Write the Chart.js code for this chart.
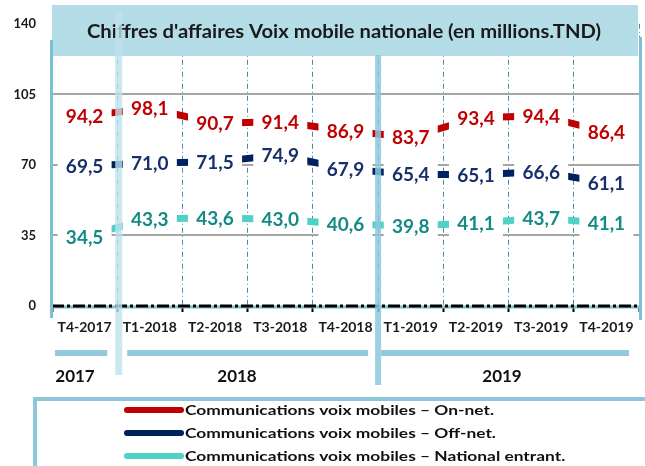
<!DOCTYPE html>
<html>
<head>
<meta charset="utf-8">
<script src="https://cdn.jsdelivr.net/npm/chart.js@4"></script>
<style>
  body { margin: 0; background: #fff; }
  #holder { width: 645px; height: 466px; }
</style>
</head>
<body>
<div id="holder"><canvas id="myChart" width="645" height="466"></canvas></div>
<script>
// data
var quarters = ['T4-2017', 'T1-2018', 'T2-2018', 'T3-2018', 'T4-2018', 'T1-2019', 'T2-2019', 'T3-2019', 'T4-2019'];
var onNet = [94.2, 98.1, 90.7, 91.4, 86.9, 83.7, 93.4, 94.4, 86.4];
var offNet = [69.5, 71.0, 71.5, 74.9, 67.9, 65.4, 65.1, 66.6, 61.1];
var entrant = [34.5, 43.3, 43.6, 43.0, 40.6, 39.8, 41.1, 43.7, 41.1];
var seriesNames = ['Communications voix mobiles \u2013 On-net.', 'Communications voix mobiles \u2013 Off-net.', 'Communications voix mobiles \u2013 National entrant.'];
var yearLabels = ['2017', '2018', '2019'];
var yearSpans = [[0, 0], [1, 4], [5, 8]];   // first / last quarter index of each year
var titleText = "Chiffres d'affaires Voix mobile nationale (en millions.TND)";

var lineColors = ['#c00000', '#002060', '#4fd1c5'];
var textColors = ['#c00000', '#17306b', '#138a85'];
var FONT = 'Lato, "Open Sans", sans-serif';

function fmt(v) {
  return v.toFixed(1).replace('.', ',');
}

// draws text squeezed/stretched to a given width (source font is Calibri-like)
function fitText(ctx, text, x, y, w, font, color, align) {
  ctx.save();
  ctx.font = font;
  var s = w / ctx.measureText(text).width;
  ctx.translate(x, y);
  ctx.scale(s, 1);
  ctx.fillStyle = color;
  ctx.textAlign = align || 'center';
  ctx.textBaseline = 'middle';
  ctx.fillText(text, 0, 0);
  ctx.restore();
}

var decorations = {
  id: 'decorations',
  afterDatasetsDraw: function(chart) {
    var ctx = chart.ctx;
    var xs = chart.scales.x, ys = chart.scales.y;
    var area = chart.chartArea;

    // value labels on white boxes (they hide most of the thick line)
    chart.data.datasets.forEach(function(ds, d) {
      ds.data.forEach(function(v, i) {
        var px = xs.getPixelForValue(i);
        var py = ys.getPixelForValue(v);
        ctx.fillStyle = '#fff';
        ctx.fillRect(px - 27, py - 13, 54, 26);
        ctx.font = 'bold 19px ' + FONT;
        ctx.fillStyle = textColors[d];
        ctx.textAlign = 'center';
        ctx.textBaseline = 'middle';
        ctx.fillText(fmt(v), px, py + 1);
      });
    });

    // zero line
    var y0 = ys.getPixelForValue(0);
    ctx.save();
    ctx.strokeStyle = '#7cc0d5';
    ctx.lineWidth = 3;
    ctx.beginPath(); ctx.moveTo(area.left, y0 + 1); ctx.lineTo(area.right, y0 + 1); ctx.stroke();
    ctx.strokeStyle = '#000';
    ctx.lineWidth = 3;
    ctx.setLineDash([12, 3, 3, 3]);
    ctx.beginPath(); ctx.moveTo(area.left, y0); ctx.lineTo(area.right, y0); ctx.stroke();
    ctx.restore();
  },
  afterDraw: function(chart) {
    var ctx = chart.ctx;
    var xs = chart.scales.x;
    var area = chart.chartArea;
    var half = (xs.getPixelForValue(1) - xs.getPixelForValue(0)) / 2;

    // title box
    ctx.fillStyle = '#b4dde8';
    ctx.fillRect(area.left, 5, area.right - area.left - 1, 51);
    fitText(ctx, titleText, 344, 32, 514, 'bold 18px ' + FONT, '#1a1a1a');

    // pale vertical bands
    ctx.fillStyle = 'rgba(190,226,237,0.8)';
    ctx.fillRect(xs.getPixelForValue(0) + half - 2, 12, 7, 363);
    ctx.fillStyle = 'rgba(140,200,220,0.85)';
    ctx.fillRect(xs.getPixelForValue(4) + half - 3, 55, 6, 330);

    // left and right borders
    ctx.fillStyle = '#7cc0d5';
    ctx.fillRect(area.left - 2, 40, 3, 278);
    ctx.fillRect(area.right, 37, 3, 283);

    // year bars and labels
    ctx.fillStyle = '#93c9da';
    var yearCenters = [75, 237, 502];
    yearSpans.forEach(function(sp, k) {
      var a = xs.getPixelForValue(sp[0]) - half + 3;
      var b = xs.getPixelForValue(sp[1]) + half - 10;
      if (k === 1) a = xs.getPixelForValue(sp[0]) - half + 10;
      if (k === 2) b = xs.getPixelForValue(sp[1]) + half - 10;
      ctx.fillRect(a, 350, b - a, 6);
      ctx.font = 'bold 17px ' + FONT;
      ctx.fillStyle = '#111';
      ctx.textAlign = 'center';
      ctx.textBaseline = 'middle';
      ctx.fillText(yearLabels[k], yearCenters[k], 377);
      ctx.fillStyle = '#93c9da';
    });

    // legend box
    ctx.strokeStyle = '#8cc8da';
    ctx.lineWidth = 4;
    ctx.strokeRect(35, 399, 640, 80);

    ctx.font = 'bold 14px ' + FONT;
    var s = 309 / ctx.measureText(seriesNames[0]).width;
    var rows = [410, 433, 456];
    chart.data.datasets.forEach(function(ds, d) {
      ctx.save();
      ctx.strokeStyle = ds.borderColor;
      ctx.lineWidth = 6;
      ctx.lineCap = 'round';
      ctx.beginPath(); ctx.moveTo(127, rows[d]); ctx.lineTo(181, rows[d]); ctx.stroke();
      ctx.restore();
      ctx.save();
      ctx.translate(185, rows[d]);
      ctx.scale(s, 1);
      ctx.font = 'bold 14px ' + FONT;
      ctx.fillStyle = '#111';
      ctx.textAlign = 'left';
      ctx.textBaseline = 'middle';
      ctx.fillText(ds.label, 0, 0);
      ctx.restore();
    });
  }
};

function makeChart() {
  var myChart = document.getElementById('myChart').getContext('2d');
  new Chart(myChart, {
    type: 'line',
    data: {
      labels: quarters,
      datasets: [
        { label: seriesNames[0], data: onNet, borderColor: lineColors[0] },
        { label: seriesNames[1], data: offNet, borderColor: lineColors[1] },
        { label: seriesNames[2], data: entrant, borderColor: lineColors[2] }
      ]
    },
    options: {
      responsive: false,
      animation: false,
      layout: { padding: { left: 0, top: 18, right: 6, bottom: 130 } },
      elements: {
        line: { borderWidth: 7, tension: 0, fill: false, borderCapStyle: 'butt' },
        point: { radius: 0, hoverRadius: 0 }
      },
      plugins: { legend: { display: false }, tooltip: { enabled: false } },
      scales: {
        x: {
          offset: true,
          grid: { offset: true, color: '#3f8eaa', lineWidth: 1, tickColor: '#000', tickWidth: 2, tickLength: 6 },
          border: { display: false, dash: [5, 3, 1, 3] },
          ticks: { color: '#1a1a1a', font: { family: FONT, size: 14, weight: 'bold' }, padding: 7, maxRotation: 0, autoSkip: false },
          afterFit: function(scale) { scale.height = 30; }
        },
        y: {
          min: 0, max: 140,
          ticks: { stepSize: 35, color: '#1a1a1a', font: { family: FONT, size: 13, weight: 'bold' }, padding: 16 },
          grid: {
            drawTicks: false,
            lineWidth: 2,
            color: function(c) {
              if (c.tick && (c.tick.value === 0 || c.tick.value === 140)) return 'rgba(0,0,0,0)';
              return '#a6a6a6';
            }
          },
          border: { display: false },
          afterFit: function(scale) { scale.width = 52; }
        }
      }
    },
    plugins: [decorations]
  });
}

if (document.fonts && document.fonts.load) {
  Promise.all([document.fonts.load('bold 14px Lato'), document.fonts.load('bold 19px Lato')]).then(makeChart, makeChart);
} else {
  makeChart();
}
</script>
</body>
</html>
